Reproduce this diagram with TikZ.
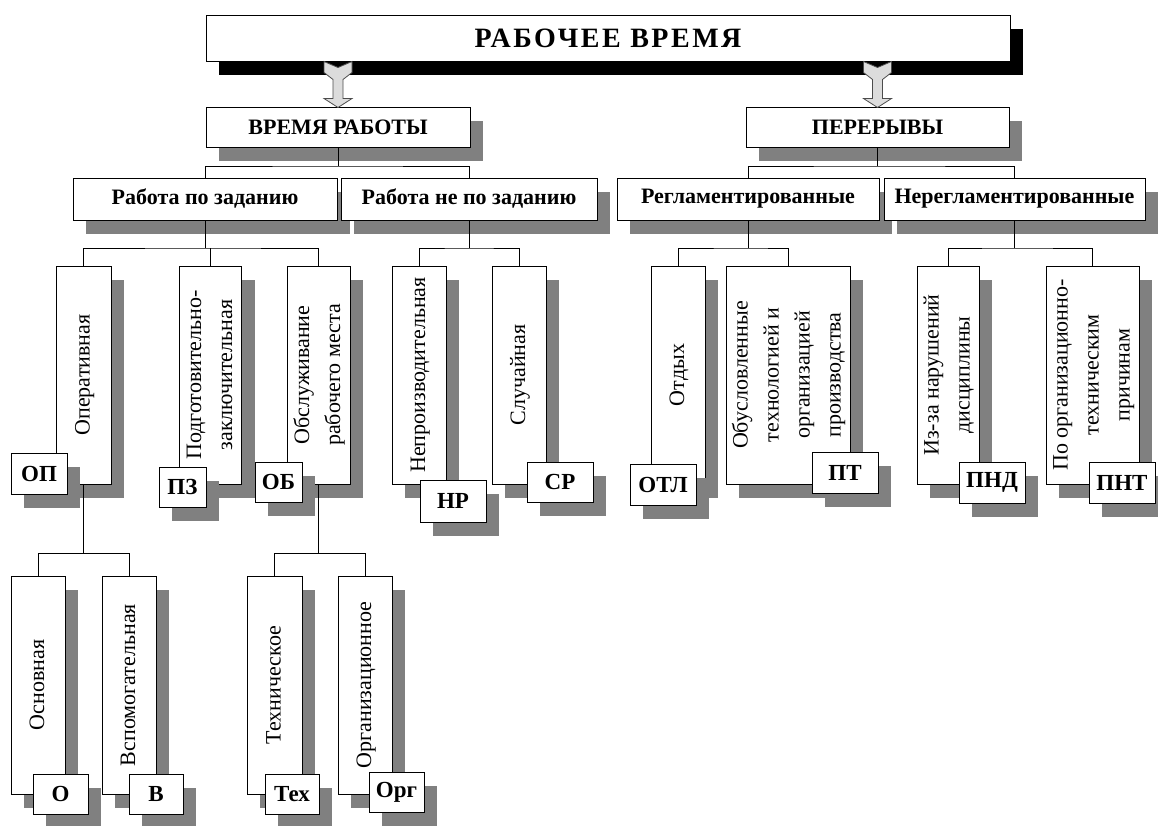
\documentclass[tikz,border=0pt]{standalone}
\usepackage{fontspec}
\setmainfont{Liberation Serif}
\newfontfamily\razr[LetterSpace=9]{Liberation Serif}
\usepackage{xcolor}
\usepackage{tikz}
\usetikzlibrary{
    calc,
    shadows
}
\definecolor{tenj}{HTML}{808080}
\definecolor{strel}{HTML}{DCDCDC}
\newcommand{\vt}[1]{\rotatebox{90}{\begin{tabular}{@{}c@{}}#1\end{tabular}}}

\tikzset{
    ramka/.style={draw=black, line width=1pt, fill=white, inner sep=0pt},
    ram/.style={ramka, drop shadow={shadow xshift=13pt, shadow yshift=-14pt, fill=tenj, opacity=1}},
    glav/.style={ram, font=\fontsize{22}{26}\selectfont\bfseries},
    vert/.style={ram, minimum height=218, font=\fontsize{22}{31}\selectfont},
    kod/.style={ram, font=\fontsize{23}{26}\selectfont\bfseries},
    lin/.style={line width=0.9pt},
    blok/.style={fill=strel, draw=black!70, line width=0.8pt, line join=miter}
}

\begin{document}
\begin{tikzpicture}[x=1pt, y=-1pt]
    \useasboundingbox (0,0) rectangle (1158,825);
    % верхний блок
    \node[ramka, drop shadow={shadow xshift=13pt, shadow yshift=-14pt, fill=black, opacity=1},
        minimum width=804, minimum height=46, font=\razr\fontsize{28}{30}\selectfont\bfseries] (rv) at (608,38) {РАБОЧЕЕ ВРЕМЯ};
    \node[glav, minimum width=264, minimum height=40] (vr) at (338,127) {ВРЕМЯ РАБОТЫ};
    \node[glav, minimum width=263, minimum height=40] (per) at (877.5,127) {ПЕРЕРЫВЫ};
    % стрелки
    \foreach \n in {vr, per}
        \draw[blok] (rv.south -| \n.north) ++(-14,0) -- ++(14,6) -- ++(14,-6) -- ++(0,11) -- ++(-9,7)
            -- ++(0,19) -- ++(9,0) -- ++(-14,9) -- ++(-14,-9) -- ++(9,0) -- ++(0,-19) -- ++(-9,-7) -- cycle;
    % второй уровень
    \node[glav, minimum width=264, minimum height=42] (rz) at (205,199) {Работа по заданию};
    \node[glav, minimum width=256, minimum height=42] (rnz) at (469,199) {Работа не по заданию};
    \node[glav, minimum width=262, minimum height=42] (reg) at (748,199) {Регламентированные};
    \node[glav, minimum width=261, minimum height=42] (nereg) at (1014.5,199) {Нерегламентированные};
    % виды затрат
    \node[vert, minimum width=55] (oper) at (83.5,375) {\vt{Оперативная}};
    \node[vert, minimum width=55] (pz) at (210.5,375) {\vt{Подготовительно-\\заключительная}};
    \node[vert, minimum width=63] (obs) at (318.5,375) {\vt{Обслуживание\\рабочего места}};
    \node[vert, minimum width=54] (nepr) at (419,375) {\vt{Непроизводительная}};
    \node[vert, minimum width=54] (slu) at (519,375) {\vt{Случайная}};
    \node[vert, minimum width=54] (otd) at (678,375) {\vt{Отдых}};
    \node[vert, minimum width=118] (obu) at (788,375) {\vt{Обусловленные\\технологией и\\организацией\\производства}};
    \node[vert, minimum width=60] (izz) at (948,375) {\vt{Из-за нарушений\\дисциплины}};
    \node[vert, minimum width=91] (pot) at (1092.5,375) {\vt{По организационно-\\техническим\\причинам}};
    \node[kod, minimum width=56, minimum height=41] (kop) at (39,473.5) {ОП};
    \node[kod, minimum width=47, minimum height=40] (kpz) at (182.5,487) {ПЗ};
    \node[kod, minimum width=47, minimum height=40] (kob) at (278.5,482) {ОБ};
    \node[kod, minimum width=66, minimum height=42] (knr) at (453,501) {НР};
    \node[kod, minimum width=66, minimum height=40] (ksr) at (560,482) {СР};
    \node[kod, minimum width=66, minimum height=41] (kotl) at (663,484.5) {ОТЛ};
    \node[kod, minimum width=66, minimum height=41] (kpt) at (845,472.5) {ПТ};
    \node[kod, minimum width=66, minimum height=41] (kpnd) at (992,482.5) {ПНД};
    \node[kod, minimum width=66, minimum height=41] (kpnt) at (1122,482.5) {ПНТ};
    % нижний уровень
    \node[vert, minimum width=54] (osn) at (38,685) {\vt{Основная}};
    \node[vert, minimum width=54] (vsp) at (129,685) {\vt{Вспомогательная}};
    \node[vert, minimum width=55] (teh) at (274.5,685) {\vt{Техническое}};
    \node[vert, minimum width=54] (org) at (365,685) {\vt{Организационное}};
    \node[kod, minimum width=55, minimum height=40] (ko) at (60.5,794) {О};
    \node[kod, minimum width=54, minimum height=40] (kv) at (156,794) {В};
    \node[kod, minimum width=54, minimum height=40] (kteh) at (292,794) {Тех};
    \node[kod, minimum width=55, minimum height=40] (korg) at (396.5,792) {Орг};
    % соединения
    \coordinate (u1) at (vr.south |- 0,166);
    \coordinate (u2) at (per.south |- 0,166);
    \coordinate (u3) at (rz.south |- 0,248);
    \coordinate (u4) at (rnz.south |- 0,248);
    \coordinate (u5) at (reg.south |- 0,248);
    \coordinate (u6) at (nereg.south |- 0,248);
    \coordinate (u7) at (oper.south |- 0,553);
    \coordinate (u8) at (obs.south |- 0,553);
    \draw[lin] (vr.south) -- (u1);
    \draw[lin] (rz.north) |- (u1) -| (rnz.north);
    \draw[lin] (per.south) -- (u2);
    \draw[lin] (reg.north) |- (u2) -| (nereg.north);
    \draw[lin] (rz.south) -- (u3);
    \draw[lin] (oper.north) |- (u3) -| (obs.north);
    \draw[lin] (pz.north) -- (pz.north |- u3);
    \draw[lin] (rnz.south) -- (u4);
    \draw[lin] (nepr.north) |- (u4) -| (slu.north);
    \draw[lin] (reg.south) -- (u5);
    \draw[lin] (otd.north) |- (u5) -| (obu.north);
    \draw[lin] (nereg.south) -- (u6);
    \draw[lin] (izz.north) |- (u6) -| (pot.north);
    \draw[lin] (oper.south) -- (u7);
    \draw[lin] (osn.north) |- (u7) -| (vsp.north);
    \draw[lin] (obs.south) -- (u8);
    \draw[lin] (teh.north) |- (u8) -| (org.north);
\end{tikzpicture}
\end{document}
